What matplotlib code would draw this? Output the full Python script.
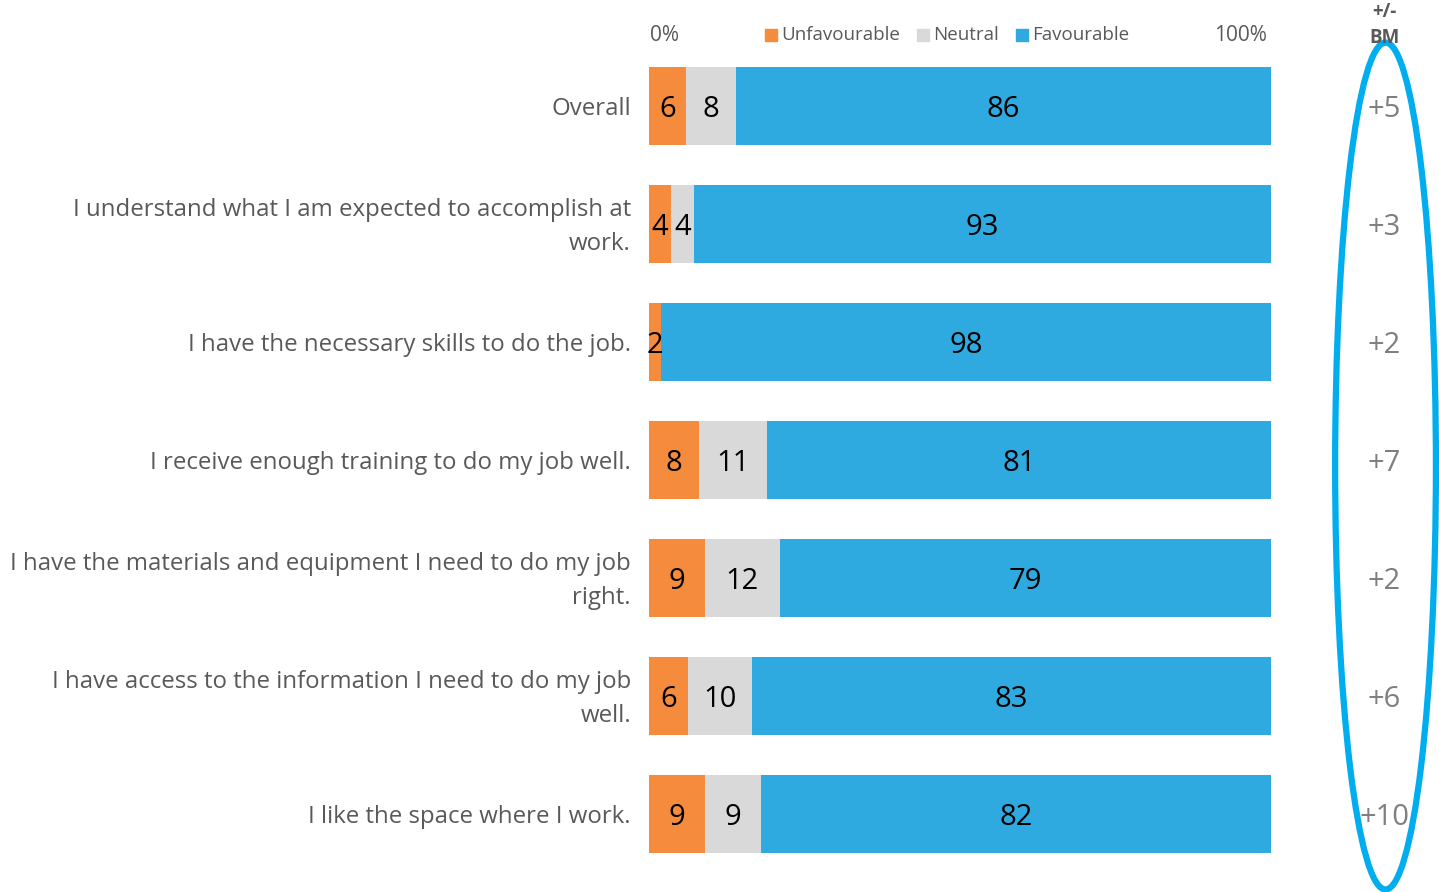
import matplotlib.pyplot as plt
from matplotlib.patches import Ellipse
from matplotlib.transforms import offset_copy, ScaledTranslation

plt.rcParams['font.family'] = ['Open Sans', 'DejaVu Sans']

questions = [
    "Overall",
    "I understand what I am expected to accomplish at\nwork.",
    "I have the necessary skills to do the job.",
    "I receive enough training to do my job well.",
    "I have the materials and equipment I need to do my job\nright.",
    "I have access to the information I need to do my job\nwell.",
    "I like the space where I work.",
]
# unrounded shares, so each bar fills 100%; labels show rounded values
unfavourable = [6, 3.6, 2, 8, 9, 6.2, 9]
neutral = [8, 3.6, 0, 11, 12, 10.4, 9]
favourable = [86, 92.8, 98, 81, 79, 83.4, 82]
bm_diff = ["+5", "+3", "+2", "+7", "+2", "+6", "+10"]

colors = {"Unfavourable": "#F58B3C", "Neutral": "#D9D9D9", "Favourable": "#2EAAE0"}

fig = plt.figure(figsize=(14.39, 8.92), dpi=100)
ax = fig.add_axes([0.451, 0.0213, 0.4323, 0.9257])

y = list(range(len(questions)))
lefts_n = list(unfavourable)
lefts_f = [u + n for u, n in zip(unfavourable, neutral)]

b1 = ax.barh(y, unfavourable, height=0.66, color=colors["Unfavourable"])
b2 = ax.barh(y, neutral, left=lefts_n, height=0.66, color=colors["Neutral"])
b3 = ax.barh(y, favourable, left=lefts_f, height=0.66, color=colors["Favourable"])

down = offset_copy(ax.transData, fig=fig, x=0, y=-3, units="dots")
for bars in (b1, b2, b3):
    for b in bars:
        w = b.get_width()
        if w > 0:
            ax.text(b.get_x() + w / 2, b.get_y() + b.get_height() / 2, f"{w:.0f}",
                    fontsize=21, color="black", ha="center", va="center", transform=down)

ax.set_xlim(0, 100)
ax.set_ylim(len(questions) - 0.5, -0.5)
ax.set_yticks(y)
ax.set_yticklabels(questions, fontsize=17.3, color="#595959", linespacing=1.55, va="center")
ax.tick_params(axis="y", length=0, pad=13)
ax.set_xticks([])
for s in ax.spines.values():
    s.set_visible(False)

# nudge question labels a little lower
shift = ScaledTranslation(0, -2.5 / 100, fig.dpi_scale_trans)
for lbl in ax.get_yticklabels():
    lbl.set_transform(lbl.get_transform() + shift)

# header: scale ends and legend
hy = -0.6
ax.text(0.2, hy, "0%", fontsize=15, color="#595959", va="center", ha="left")
ax.text(99.4, hy, "100%", fontsize=15, color="#595959", va="center", ha="right")
leg_x = [18.6, 43.1, 59.0]
for name, lx in zip(colors, leg_x):
    ax.scatter([lx + 0.95], [hy], marker="s", s=80, color=colors[name], clip_on=False)
    ax.text(lx + 2.6, hy, name, fontsize=13.5, color="#595959", va="center", ha="left")

# benchmark column
ax.text(118.2, -0.8, "+/-", fontsize=13.5, color="#595959", fontweight="bold", ha="center", va="center")
ax.text(118.2, -0.58, "BM", fontsize=13.5, color="#595959", fontweight="bold", ha="center", va="center")
for yi, d in zip(y, bm_diff):
    ax.text(118.2, yi, d, fontsize=21, color="#7F7F7F", ha="center", va="center", transform=down)

ell = Ellipse((118.4, 3.05), 16.2, 7.18, fill=False, edgecolor="#00AEEF", linewidth=4.5, clip_on=False)
ax.add_patch(ell)

fig.savefig("out.png", dpi=100)
